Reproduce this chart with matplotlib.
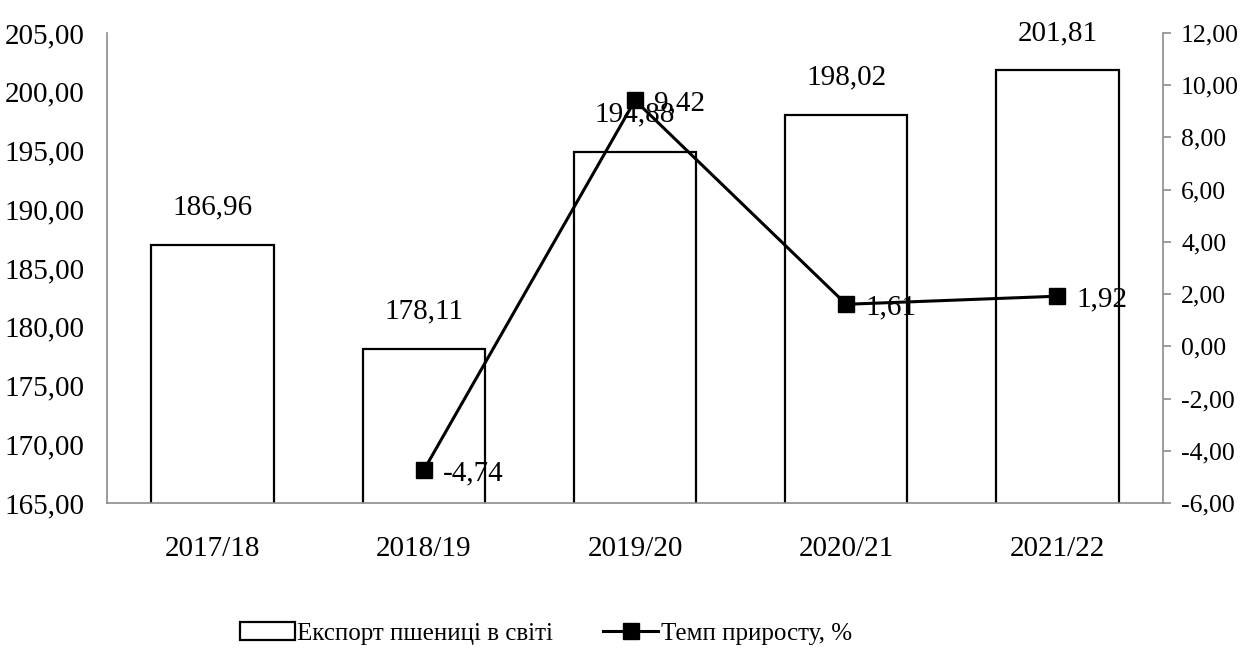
import numpy as np
import matplotlib.pyplot as plt
from matplotlib.ticker import FuncFormatter

plt.rcParams['font.family'] = ['Liberation Serif', 'DejaVu Serif']

years = ['2017/18', '2018/19', '2019/20', '2020/21', '2021/22']
export = [186.96, 178.11, 194.88, 198.02, 201.81]
growth = [np.nan, -4.74, 9.42, 1.61, 1.92]

bar_name = 'Експорт пшениці в світі'
line_name = 'Темп приросту, %'

def comma(v, pos=None):
    return f'{v:.2f}'.replace('.', ',')

fig = plt.figure(figsize=(12.46, 6.53), dpi=100)
ax = fig.add_axes([0.0859, 0.2297, 0.8475, 0.7198])
x = np.arange(len(years))

bars = ax.bar(x, export, width=0.58, bottom=0, color='white', edgecolor='black',
              linewidth=1.6, label=bar_name, zorder=2)
ax.set_ylim(165, 205)
ax.set_yticks(np.arange(165, 206, 5))
ax.yaxis.set_major_formatter(FuncFormatter(comma))
ax.set_xlim(-0.5, len(years) - 0.5)
ax.set_xticks(x)
ax.set_xticklabels(years)
ax.tick_params(axis='y', length=0, pad=16, labelsize=21)
ax.tick_params(axis='x', length=0, pad=24, labelsize=21)
for s in ['top', 'right']:
    ax.spines[s].set_visible(False)
for s in ['left', 'bottom']:
    ax.spines[s].set_color('#8c8c8c')
    ax.spines[s].set_linewidth(1.2)

for xi, v in zip(x, export):
    ax.annotate(comma(v), (xi, v), xytext=(0, 27), textcoords='offset points',
                ha='center', va='center', fontsize=21)

ax2 = ax.twinx()
line, = ax2.plot(x, growth, color='black', linewidth=2.2, marker='s',
                 markersize=11, label=line_name, zorder=3)
ax2.set_ylim(-6, 12)
ax2.set_yticks(np.arange(-6, 13, 2))
ax2.yaxis.set_major_formatter(FuncFormatter(comma))
ax2.tick_params(axis='y', length=6, width=1.2, color='#8c8c8c', pad=7, labelsize=18.5)
for s in ['top', 'left', 'bottom']:
    ax2.spines[s].set_visible(False)
ax2.spines['right'].set_color('#8c8c8c')
ax2.spines['right'].set_linewidth(1.2)

for xi, v in zip(x, growth):
    if np.isnan(v):
        continue
    ax2.annotate(comma(v), (xi, v), xytext=(14, -2), textcoords='offset points',
                 ha='left', va='center', fontsize=21)

fig.legend([bars, line], [bar_name, line_name], loc='center',
           bbox_to_anchor=(0.438, 0.03), ncol=2, frameon=False, fontsize=18,
           handlelength=2.2, handletextpad=0.1, columnspacing=2.0)

plt.savefig('out.png', dpi=100)
